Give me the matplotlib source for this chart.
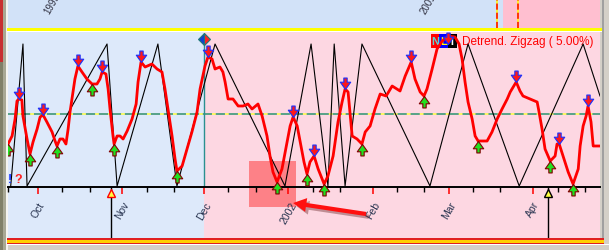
import numpy as np
import pandas as pd
import matplotlib
matplotlib.use("Agg")
import matplotlib.pyplot as plt
import matplotlib.dates as mdates
import matplotlib.patheffects as pe
import matplotlib.transforms as mtrans
from matplotlib.path import Path
from matplotlib.patches import Rectangle
from matplotlib.ticker import FuncFormatter

plt.rcParams['font.family'] = ['Liberation Sans', 'DejaVu Sans']

W, H = 609, 251
START = pd.Timestamp("2001-09-20")
END_DAY = 217.6

# detrended price (%), x = calendar days since START
red_days = [0, 1.5, 2.6, 3.3, 4.0, 5.1, 5.5, 7.0, 8.1, 9.2,
            10.7, 11.8, 12.9, 14.3, 16.2, 17.3, 18.0, 19.1, 20.2, 21.3,
            22.1, 22.8, 23.9, 24.6, 25.7, 27.2, 29.0, 30.9, 32.7, 33.8,
            34.6, 36.0, 36.8, 37.5, 38.6, 39.0, 40.1, 41.2, 42.3, 43.8,
            45.6, 47.1, 47.8, 48.9, 50.4, 52.9, 54.8, 56.6, 57.7, 58.8,
            60.3, 61.4, 62.1, 64.0, 65.8, 67.6, 69.5, 70.6, 72.4, 73.5,
            75.0, 76.1, 77.9, 79.0, 79.8, 80.9, 82.7, 84.6, 86.4, 88.2,
            89.7, 91.9, 93.4, 95.2, 96.3, 97.4, 98.9, 100.7, 102.6, 103.7,
            104.8, 106.3, 107.4, 108.8, 109.9, 111.0, 112.5, 114.0, 116.2, 117.6,
            119.5, 121.3, 122.8, 123.9, 125.0, 125.7, 126.5, 128.3, 130.1, 131.3,
            133.1, 134.9, 136.8, 139.0, 141.2, 144.1, 146.0, 148.2, 149.6, 151.5,
            152.9, 154.0, 155.9, 157.7, 159.6, 161.8, 164.3, 165.8, 166.9, 168.0,
            169.1, 170.6, 171.7, 172.8, 176.1, 177.9, 179.8, 181.6, 183.5, 184.6,
            186.8, 188.2, 189.3, 191.9, 194.5, 195.2, 196.3, 197.4, 199.3, 201.1,
            201.8, 202.6, 204.0, 205.9, 207.7, 209.6, 210.3, 211.4, 212.5, 213.2,
            214.3, 215.1, 216.5, 217.6]
red_vals = [-3.0, -2.2, -0.5, 1.3, 1.5, 1.4, -0.2, -2.5, -4.0, -2.8,
            -1.5, -0.3, -0.1, -0.8, -1.8, -2.7, -3.2, -2.5, -2.5, -3.0,
            -1.5, 0.2, 2.2, 3.5, 4.8, 4.2, 3.5, 3.0, 3.0, 3.5,
            4.2, 4.0, 2.5, 0.5, -2.2, -3.0, -2.2, -2.2, -2.5, -1.7,
            -0.5, 1.0, 3.2, 5.2, 4.7, 5.0, 4.5, 4.2, 2.5, 0.5,
            -2.2, -4.5, -5.7, -5.2, -3.5, -1.8, 0.2, 2.5, 4.8, 5.7,
            5.5, 4.5, 4.7, 4.2, 3.2, 1.5, 1.5, 0.8, 0.8, 1.0,
            0.5, 1.0, -0.2, -2.2, -4.2, -5.8, -6.8, -5.5, -2.8, -1.2,
            -0.3, -1.2, -2.8, -4.8, -6.0, -4.8, -4.2, -5.5, -7.0, -6.2,
            -4.2, -0.8, 1.2, 2.5, 2.2, 0.2, -2.2, -2.5, -3.0, -1.8,
            -1.2, 0.5, 2.0, 1.8, 2.8, 2.3, 3.8, 5.2, 3.5, 2.2,
            1.8, 2.5, 4.5, 6.5, 7.3, 7.8, 7.7, 7.0, 5.5, 3.2,
            1.2, -0.5, -2.2, -2.7, -2.7, -1.8, -0.5, 0.5, 1.5, 2.2,
            3.2, 2.3, 1.8, 1.5, 1.2, 0.2, -1.5, -3.5, -4.7, -4.2,
            -3.0, -3.0, -4.2, -5.8, -7.0, -5.5, -3.2, -1.2, -0.2, 0.8,
            -0.8, -3.2, -3.2, -3.2]

# zigzag turning points (down arrows = tops, up arrows = bottoms)
peak_days = [4.0, 12.9, 25.7, 34.6, 48.9, 73.5, 104.8, 112.5, 123.9, 148.2, 161.8, 186.8, 202.6, 213.2]
peak_vals = [1.5, -0.1, 4.8, 4.2, 5.2, 5.7, -0.3, -4.2, 2.5, 5.2, 7.0, 3.2, -3.0, 0.8]
trough_days = [0.0, 8.1, 18.0, 30.9, 39.0, 62.1, 98.9, 109.9, 116.2, 130.1, 152.9, 172.8, 199.3, 207.7]
trough_vals = [-3.0, -4.0, -3.2, 3.0, -3.0, -5.7, -6.8, -6.0, -7.0, -3.0, 1.8, -2.7, -4.7, -7.0]

# normalized zigzag (black)
zz_days = [1.0, 5.5, 7.0, 36.4, 40.1, 55.1, 62.1, 76.1, 101.8, 111.4,
           117.6, 119.9, 123.9, 130.1, 155.1, 169.1, 187.9, 211.4, 217.6]
zz_vals = [-7.2, 7.0, -7.2, 7.0, -7.2, 7.0, -7.2, 7.0, -7.2, 7.0,
           -7.2, 7.0, -7.2, 7.0, -7.2, 7.0, -7.2, 7.0, 1.8]

split_day = 72.0          # Dec 1 2001
cursor_days = [37.9, 198.5]
box_days = [88.6, 105.9]
box_vals = [-9.3, -4.7]
arrow_days = [104.8, 131.6]
arrow_vals = [-8.9, -10.0]
axis_level = -7.3
top_split_day = 182.0
top_marks = [179.8, 187.5]
legend_text = "Detrend. Zigzag ( 5.00%)"


def dn(days):
    return mdates.date2num((START + pd.to_timedelta(np.asarray(days, dtype=float), unit="D")).to_pydatetime())


def fbox(x0, y0, x1, y1):
    return [x0 / W, 1 - y1 / H, (x1 - x0) / W, (y1 - y0) / H]


fig = plt.figure(figsize=(W / 100, H / 100), dpi=100)
fig.patch.set_facecolor('#d4d0c8')


def frect(x0, y0, x1, y1, color, z=0):
    fig.add_artist(Rectangle((x0 / W, 1 - y1 / H), (x1 - x0) / W, (y1 - y0) / H,
                             transform=fig.transFigure, facecolor=color, lw=0, zorder=z))


# window chrome
frect(0, 0, 3, 63, '#c83030')
frect(0, 63, 3, 251, '#808068')
frect(3, 0, 6, 251, '#a8a894')
frect(6, 0, 8, 251, '#f4f4f0')
frect(7, 29, 602, 32, '#ffff00')
frect(7, 32, 602, 33, '#ffffff')
frect(7, 239, 604, 245, '#e02020')
frect(7, 240.5, 604, 243.5, '#ffd000')
frect(7, 245, 609, 246, '#ffffff')
frect(602, 0, 604, 239, '#a0a0a0')

# ---- top overview strip
axt = fig.add_axes(fbox(8, 0, 600, 29))
axt.set_facecolor('#d2e2f8')
axt.set_xlim(dn([0, END_DAY]))
axt.set_ylim(0, 1)
axt.axis('off')
axt.add_patch(Rectangle((0, 0), 1, 1, transform=axt.transAxes, facecolor='#d2e2f8', lw=0, zorder=-1))
axt.axvspan(dn([top_split_day])[0], dn([END_DAY])[0], color='#ffbfd0', lw=0)
for x in dn(top_marks):
    axt.axvline(x, color='#ffff00', lw=1.1)
    axt.axvline(x, color='#ff0000', lw=1.1, dashes=(4, 2))
bt = mtrans.blended_transform_factory(axt.transData, axt.transAxes)
for day, lab in [(14.3, '1999'), (152.6, '2001')]:
    axt.text(dn([day])[0], 0.55, lab, transform=bt, rotation=60, rotation_mode='anchor',
             ha='left', va='center', fontsize=7, color='#303040', clip_on=True)

# ---- main panel
ax = fig.add_axes(fbox(8, 33, 600, 239))
ax.set_xlim(dn([0, END_DAY]))
ax.set_ylim(-12.4, 8.2)
ax.set_facecolor('#fdd7e2')
ax.axvspan(dn([0])[0], dn([split_day])[0], color='#dde9fa', lw=0, zorder=0)

for s in ['top', 'left', 'right']:
    ax.spines[s].set_visible(False)
ax.spines['bottom'].set_position(('data', axis_level))
ax.spines['bottom'].set_linewidth(1.4)
ax.set_yticks([])
ax.xaxis.set_major_locator(mdates.MonthLocator())
ax.xaxis.set_minor_locator(mdates.DayLocator(bymonthday=[10, 20]))


def month_fmt(v, pos):
    t = mdates.num2date(v)
    return t.strftime('%Y') if t.month == 1 else t.strftime('%b')


ax.xaxis.set_major_formatter(FuncFormatter(month_fmt))
ax.tick_params(axis='x', which='major', length=5, width=1.1, color='#ff0000',
               labelsize=7.5, labelcolor='#283450', labelrotation=60, pad=4)
ax.tick_params(axis='x', which='minor', length=3.6, width=1.0, color='black')

# zero line
ax.axhline(0, color='#ffff40', lw=1.1, zorder=1)
ax.axhline(0, color='#2a8a96', lw=1.1, dashes=(6, 2.5), zorder=1)

# history/forecast boundary
ax.vlines(dn([split_day]), axis_level, 7.5, color='#2a9090', lw=1.0, zorder=2)
ax.plot(dn([split_day]), [7.5], ls='none', marker='D', ms=6.5, fillstyle='left',
        mfc='#1040d0', markerfacecoloralt='#ff2020', mec='#207878', mew=0.8,
        zorder=6, clip_on=False)

# highlight box + pointer
x0, x1 = dn(box_days)
ax.add_patch(Rectangle((x0, box_vals[0]), x1 - x0, box_vals[1] - box_vals[0],
                       facecolor='#ff0000', alpha=0.4, lw=0, zorder=1.5))
ax.plot(dn(zz_days), zz_vals, color='black', lw=0.8, zorder=2)
ax.plot(dn(red_days), red_vals, color='#ff0000', lw=2.0, zorder=3)

down_path = Path([(0, 0), (-5, 7), (-1.6, 7), (-1.6, 11), (1.6, 11), (1.6, 7), (5, 7), (0, 0)], closed=True)
up_path = Path([(0, 0), (-5, -7), (-1.6, -7), (-1.6, -11), (1.6, -11), (1.6, -7), (5, -7), (0, 0)], closed=True)
ax.plot(dn(peak_days), peak_vals, ls='none', marker=down_path, ms=16.5,
        mfc='#ff1818', mec='#1830ff', mew=0.8, zorder=5)
ax.plot(dn(trough_days), trough_vals, ls='none', marker=up_path, ms=16.5,
        mfc='#20e020', mec='#800000', mew=0.8, zorder=5)

# cursors
cx = dn(cursor_days)
ax.vlines(cx, -12.4, axis_level, color='black', lw=1.0, zorder=4)
ax.plot([cx[0]], [axis_level - 0.55], ls='none', marker='^', ms=5.5, mfc='#ffff40', mec='#ff0000', mew=1.0, zorder=6)
ax.plot([cx[1]], [axis_level - 0.55], ls='none', marker='^', ms=5.5, mfc='#ffff40', mec='black', mew=1.0, zorder=6)

ax.annotate('', xy=(dn([arrow_days[0]])[0], arrow_vals[0]),
            xytext=(dn([arrow_days[1]])[0], arrow_vals[1]),
            arrowprops=dict(arrowstyle='simple,head_length=0.95,head_width=1.0,tail_width=0.3',
                            fc='#ff1010', ec='none', mutation_scale=10, shrinkA=0, shrinkB=0,
                            path_effects=[pe.SimplePatchShadow(offset=(2, -2), alpha=0.35), pe.Normal()]),
            annotation_clip=False, zorder=6)

# indicator title
tf = fig.transFigure
for (xa, xb, bg, fgc, ch) in [(431, 439, '#ff0000', '#60d0d0', 'N'),
                              (439, 448, '#0000ff', '#ffff00', 'L'),
                              (448, 457, '#000000', '#ffffff', 'T')]:
    ax.add_patch(Rectangle((xa / W, 1 - 49 / H), (xb - xa) / W, 14 / H, transform=tf,
                           facecolor=bg, lw=0, zorder=1.8, clip_on=False))
    ax.text((xa + xb) / 2 / W, 1 - 42 / H, ch, transform=tf, ha='center', va='center',
            fontsize=8, fontweight='bold', color=fgc, zorder=1.9)
ax.text(462 / W, 1 - 42 / H, legend_text, transform=tf, ha='left', va='center',
        fontsize=8.5, color='#ff0000', zorder=1.9)
ax.text(10 / W, 1 - 180 / H, '!', transform=tf, ha='center', va='center',
        fontsize=9, fontweight='bold', color='#1030ff', zorder=6)
ax.text(18 / W, 1 - 180 / H, '?', transform=tf, ha='center', va='center',
        fontsize=9, fontweight='bold', color='#ff2020', zorder=6)

fig.savefig('out.png', dpi=100, facecolor=fig.get_facecolor())
